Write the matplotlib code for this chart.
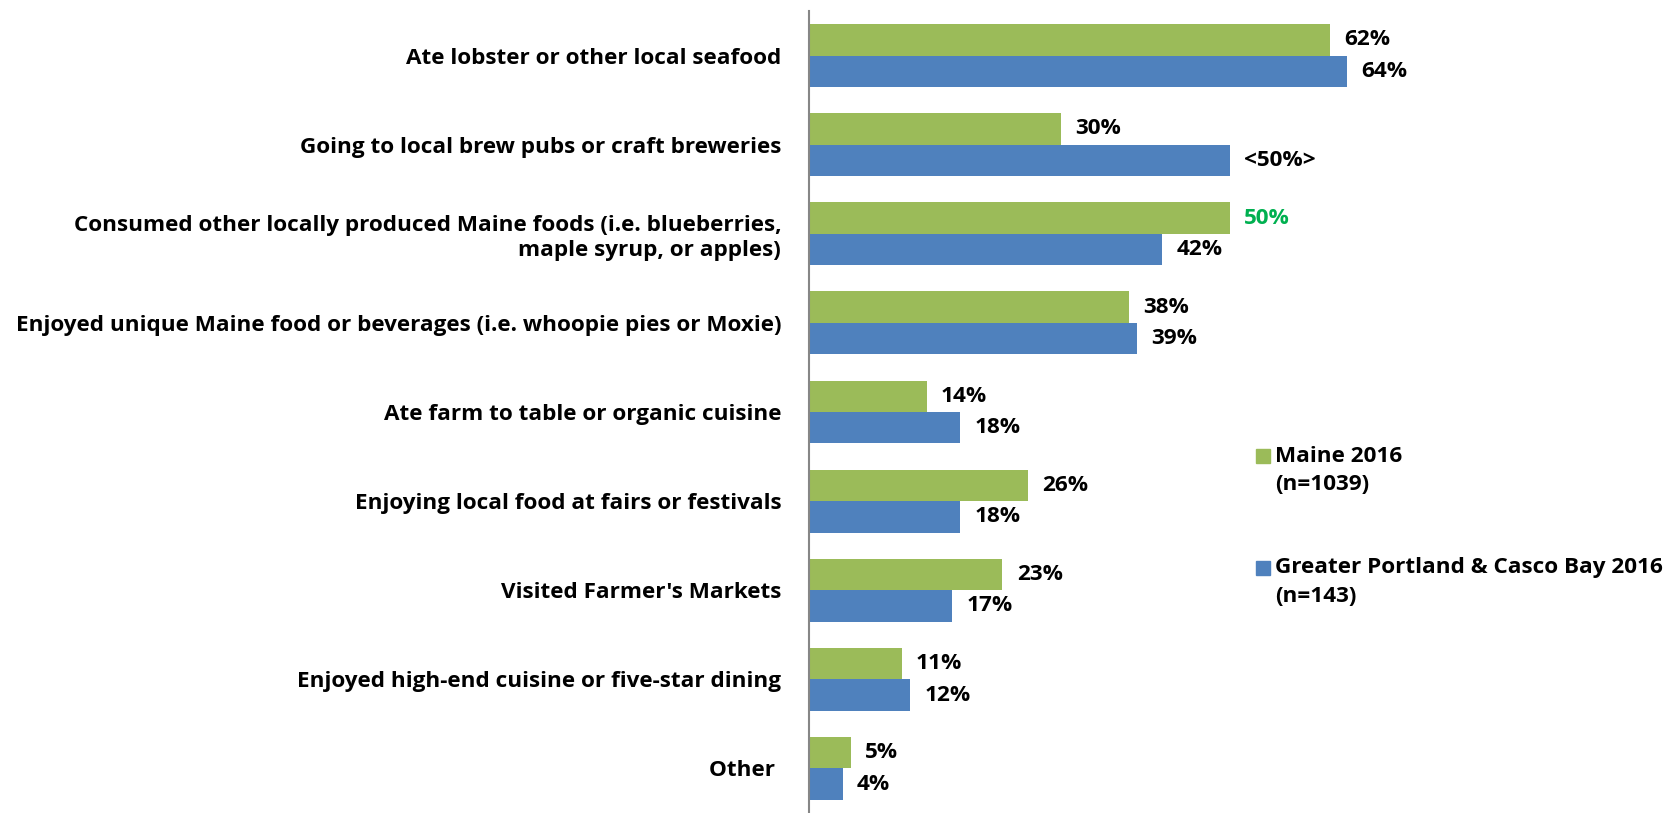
import numpy as np
import matplotlib.pyplot as plt
from matplotlib.patches import Rectangle

plt.rcParams['font.family'] = ['Open Sans', 'DejaVu Sans']
plt.rcParams['font.weight'] = 'bold'

categories = [
    "Ate lobster or other local seafood",
    "Going to local brew pubs or craft breweries",
    "Consumed other locally produced Maine foods (i.e. blueberries,\nmaple syrup, or apples)",
    "Enjoyed unique Maine food or beverages (i.e. whoopie pies or Moxie)",
    "Ate farm to table or organic cuisine",
    "Enjoying local food at fairs or festivals",
    "Visited Farmer's Markets",
    "Enjoyed high-end cuisine or five-star dining",
    "Other ",
]
maine = [62, 30, 50, 38, 14, 26, 23, 11, 5]
portland = [64, 50, 42, 39, 18, 18, 17, 12, 4]
maineLabels = ["62%", "30%", "50%", "38%", "14%", "26%", "23%", "11%", "5%"]
portlandLabels = ["64%", "<50%>", "42%", "39%", "18%", "18%", "17%", "12%", "4%"]
seriesNames = ["Maine 2016", "Greater Portland & Casco Bay 2016"]
seriesN = ["(n=1039)", "(n=143)"]

green = "#9BBB59"
blue = "#4F81BD"
fs = 16.2

W, H = 1676, 813
fig = plt.figure(figsize=(W / 100, H / 100), dpi=100)
ax = fig.add_axes([809 / W, 0.0, 841 / W, 1 - 11 / H])

y = np.arange(len(categories))
h = 0.353

ax.barh(y - h / 2, maine, height=h, color=green)
ax.barh(y + h / 2, portland, height=h, color=blue)

off = 1.7
for i in range(len(categories)):
    col = "#00B050" if i == 2 else "black"
    ax.text(maine[i] + off, y[i] - h / 2, maineLabels[i], va="center", ha="left",
            fontsize=fs, fontweight="bold", color=col)
    ax.text(portland[i] + off, y[i] + h / 2, portlandLabels[i], va="center", ha="left",
            fontsize=fs, fontweight="bold", color="black")

ax.set_ylim(len(categories) - 0.5, -0.5)
ax.set_xlim(0, 100)
ax.set_yticks(y)
ax.set_yticklabels(categories, fontsize=fs, fontweight="bold", ha="right", linespacing=1.25)
ax.tick_params(axis="y", length=0, pad=20)
ax.set_xticks([])

for s in ["top", "right", "bottom"]:
    ax.spines[s].set_visible(False)
ax.spines["left"].set_color("#868686")
ax.spines["left"].set_linewidth(1.5)

# legend: square aligned with the first line of each two-line entry
legendRows = [456, 568]
for name, n, col, row in zip(seriesNames, seriesN, [green, blue], legendRows):
    fig.add_artist(Rectangle((1256 / W, 1 - (row + 7) / H), 14 / W, 14 / H,
                             transform=fig.transFigure, color=col))
    fig.text(1275 / W, 1 - row / H, name, ha="left", va="center", fontsize=fs, fontweight="bold")
    fig.text(1275 / W, 1 - (row + 28) / H, n, ha="left", va="center", fontsize=fs, fontweight="bold")

fig.savefig("out.png", dpi=100)
